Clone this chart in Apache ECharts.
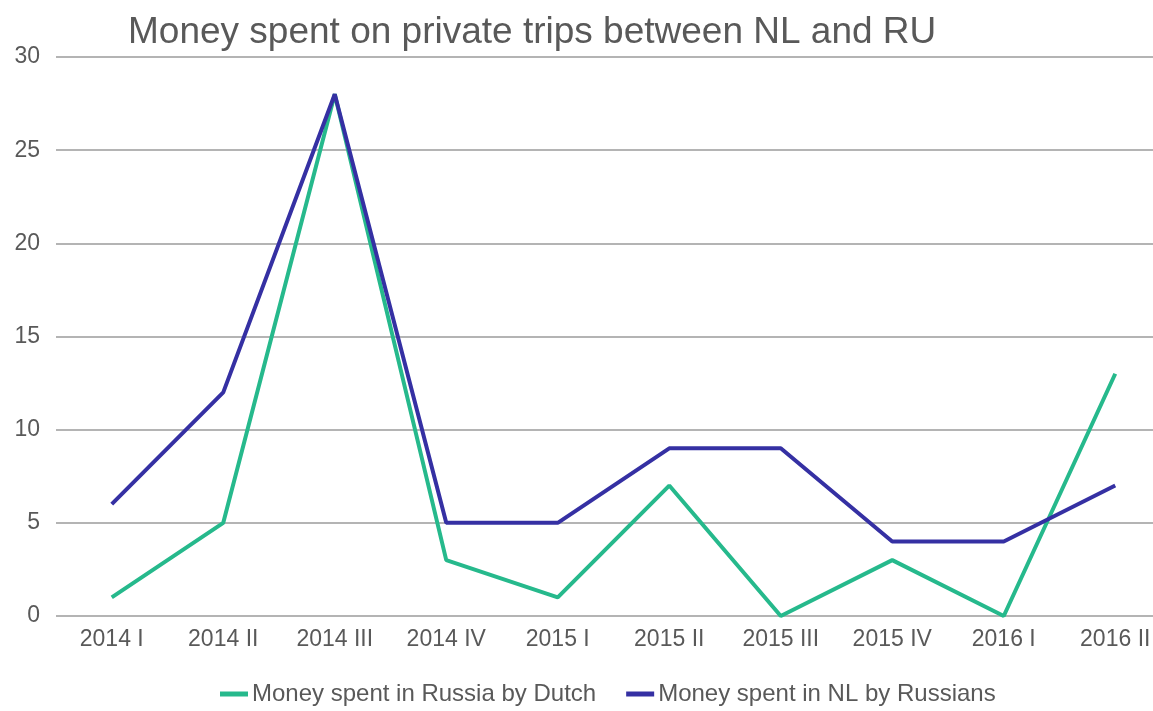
<!DOCTYPE html>
<html>

<head>
    <meta charset="utf-8">
    <title>Money spent on private trips</title>
    <script src="https://cdn.jsdelivr.net/npm/echarts@6/dist/echarts.min.js"></script>
    <style>
        html, body {
            margin: 0;
            padding: 0;
            background: #fff;
        }

        #main {
            width: 1153px;
            height: 711px;
        }
    </style>
</head>

<body>
    <div id="main"></div>
    <script>
        // data
        var quarters = ['2014 I', '2014 II', '2014 III', '2014 IV', '2015 I', '2015 II', '2015 III', '2015 IV', '2016 I', '2016 II'];
        var dutchInRussia = [1, 5, 28, 3, 1, 7, 0, 3, 0, 13];
        var russiansInNL = [6, 12, 28, 5, 5, 9, 9, 4, 4, 7];

        var textColor = '#595959';
        var font = 'Liberation Sans, Arial, sans-serif';

        var myChart = echarts.init(document.getElementById('main'));
        var option = {
            animation: false,
            title: {
                text: 'Money spent on private trips between NL and RU',
                left: 123,
                top: 9,
                textStyle: {
                    fontFamily: font,
                    fontSize: 37,
                    fontWeight: 'normal',
                    color: textColor
                }
            },
            legend: {
                bottom: 0,
                left: 215,
                icon: 'rect',
                itemWidth: 28,
                itemHeight: 5,
                itemGap: 30,
                textStyle: {
                    fontFamily: font,
                    fontSize: 24,
                    color: textColor,
                    padding: [0, 0, 0, -1]
                },
                data: ['Money spent in Russia by Dutch', 'Money spent in NL by Russians']
            },
            // the plot runs a bit past the right edge, as in the original crop
            grid: {
                left: 56,
                width: 1115,
                top: 57,
                bottom: 95,
                outerBoundsMode: 'none'
            },
            xAxis: {
                type: 'category',
                data: quarters,
                boundaryGap: true,
                axisLine: { show: false },
                axisTick: { show: false },
                axisLabel: {
                    margin: 12,
                    fontFamily: font,
                    fontSize: 23,
                    color: textColor
                }
            },
            yAxis: {
                type: 'value',
                min: 0,
                max: 30,
                interval: 5,
                axisLine: { show: false },
                axisTick: { show: false },
                axisLabel: {
                    margin: 16,
                    fontFamily: font,
                    fontSize: 23,
                    color: textColor
                },
                splitLine: {
                    lineStyle: { color: '#b4b4b4', width: 2 }
                }
            },
            series: [
                {
                    name: 'Money spent in Russia by Dutch',
                    type: 'line',
                    data: dutchInRussia,
                    symbol: 'none',
                    color: '#26b98c',
                    lineStyle: { width: 4, color: '#26b98c' }
                },
                {
                    name: 'Money spent in NL by Russians',
                    type: 'line',
                    data: russiansInNL,
                    symbol: 'none',
                    color: '#3530a3',
                    lineStyle: { width: 4, color: '#3530a3' }
                }
            ]
        };

        option && myChart.setOption(option);
    </script>
</body>

</html>
